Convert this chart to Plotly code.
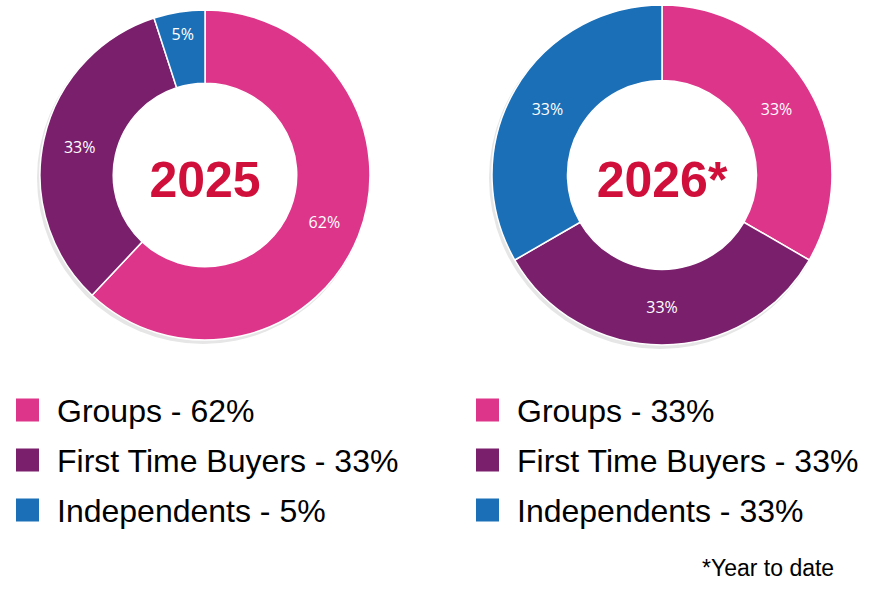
import plotly.graph_objects as go

# Données
categories = ["Groups", "First Time Buyers", "Independents"]
years = ["2025", "2026*"]
shares_2025 = [62, 33, 5]
shares_2026 = [33, 33, 33]
footnote = "*Year to date"

colors = ["#DD3589", "#7A1F6C", "#1B6FB7"]
title_color = "#D0103A"

W, H = 881, 592
HOLE = 0.556

# Position des anneaux (en pixels : centre x, centre y, rayon)
donuts = [(205, 175, 165), (662, 175, 170)]
legend_x = [16, 476]
rows_y = [410, 460, 510]


def px(x):
    return x / W


def py(y):
    return 1 - y / H


def circle(cx, cy, r, color, dx=0, dy=0):
    return dict(type="circle", xref="paper", yref="paper", layer="below",
                x0=px(cx - r + dx), x1=px(cx + r + dx), y0=py(cy + r + dy), y1=py(cy - r + dy),
                fillcolor=color, line_width=0)


fig = go.Figure()
shapes = []
annotations = []

for (cx, cy, r), year, shares, lx in zip(donuts, years, [shares_2025, shares_2026], legend_x):
    # Ombre légère autour de l'anneau, trou blanc par-dessus
    shapes.append(circle(cx, cy, r + 1, "#e6e6e6", dx=-2, dy=3))
    shapes.append(circle(cx, cy, r * HOLE, "white"))
    fig.add_trace(go.Pie(
        labels=categories, values=shares, sort=False, direction="clockwise", rotation=0,
        hole=HOLE, marker=dict(colors=colors, line=dict(color="white", width=1.5)),
        text=[f"{v}%" for v in shares], textinfo="text", textposition="inside",
        insidetextorientation="horizontal",
        insidetextfont=dict(family="Open Sans", size=16, color="white"),
        title=dict(text=f"<b>{year}</b>", position="middle center",
                   font=dict(family="Liberation Sans, Arial", size=50, color=title_color)),
        domain=dict(x=[px(cx - r), px(cx + r)], y=[py(cy + r), py(cy - r)]),
        showlegend=False, hoverinfo="label+percent",
    ))
    # Légende personnalisée
    for cat, v, col, ry in zip(categories, shares, colors, rows_y):
        shapes.append(dict(type="rect", xref="paper", yref="paper",
                           x0=px(lx), x1=px(lx + 23), y0=py(ry + 11.5), y1=py(ry - 11.5),
                           fillcolor=col, line_width=0))
        annotations.append(dict(text=f"{cat} - {v}%", xref="paper", yref="paper",
                                x=px(lx + 39), y=py(ry + 1), xanchor="left", yanchor="middle",
                                showarrow=False,
                                font=dict(family="Liberation Sans, Arial", size=32, color="black")))

annotations.append(dict(text=footnote, xref="paper", yref="paper", x=px(836), y=py(568),
                        xanchor="right", yanchor="middle", showarrow=False,
                        font=dict(family="Liberation Sans, Arial", size=23, color="black")))

fig.update_layout(width=W, height=H, margin=dict(l=0, r=0, t=0, b=0),
                  paper_bgcolor="white", plot_bgcolor="white",
                  shapes=shapes, annotations=annotations)

# La marge par défaut de la page décale le graphique de 8 px
fig.write_html("out.html", config={"displayModeBar": False},
               post_script="document.body.style.margin='0';")
